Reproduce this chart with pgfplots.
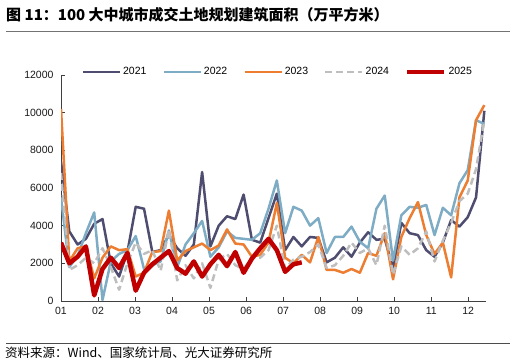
\documentclass[border=0pt]{standalone}
\usepackage{pgfplots}
\pgfplotsset{compat=1.18}
\usepackage{fontspec}
\setmainfont{Liberation Sans}
\newfontfamily\cjk{Noto Sans CJK SC}
\definecolor{c21}{RGB}{78,77,112}
\definecolor{c22}{RGB}{126,172,196}
\definecolor{c23}{RGB}{237,125,49}
\definecolor{c24}{RGB}{190,190,190}
\definecolor{c25}{RGB}{192,0,0}
\begin{document}
\begin{tikzpicture}
\path[use as bounding box] (0pt,0pt) rectangle (516pt,363pt);
\node[anchor=west,inner sep=0pt] at (6pt,348pt) {\cjk\bfseries\fontsize{15}{18}\selectfont 图 11：100 大中城市成交土地规划建筑面积（万平方米）};
\draw[black!55, line width=1pt] (6pt,331pt) -- (510pt,331pt);
\draw[black!70, line width=0.8pt] (6pt,20pt) -- (510pt,20pt);
\node[anchor=west,inner sep=0pt] at (5pt,10.5pt) {\cjk\fontsize{12.5}{15}\selectfont 资料来源：Wind、国家统计局、光大证券研究所};
\begin{axis}[at={(61pt,62pt)}, anchor=south west, scale only axis,
  width=425pt, height=226pt,
  xmin=0, xmax=51.2, ymin=0, ymax=12000,
  axis lines*=left,
  axis line style={black!75, line width=0.9pt},
  tick style={black!75, line width=0.8pt},
  major tick length=4pt, tick align=inside,
  xtick={0,4.46,8.92,13.38,17.84,22.3,26.76,31.22,35.68,40.14,44.6,49.06},
  xticklabels={01,02,03,04,05,06,07,08,09,10,11,12},
  ytick={0,2000,4000,6000,8000,10000,12000},
  scaled y ticks=false,
  /pgf/number format/assume math mode=true,
  /pgf/number format/1000 sep={},
  tick label style={font=\fontsize{10.5}{12}\selectfont, black!90},
  xticklabel style={yshift=-3pt},
  yticklabel style={xshift=-4pt},
  legend style={draw=none, fill=none, at={(0.51,1.013)}, anchor=center,
    font=\fontsize{10.5}{12}\selectfont,
    /tikz/every even column/.append style={column sep=14pt}},
  legend columns=5,
  legend image code/.code={\draw[#1, line cap=butt] (0pt,0pt) -- (37pt,0pt);},
  every axis plot/.append style={line join=round},
]
\addplot[c21, line width=2.5pt] coordinates {
(0,7400)(1,3700)(2,3000)(3,3300)(4,4100)(5,4350)(6,2000)(7,1300)(8,2600)(9,5000)
(10,4900)(11,2600)(12,2700)(13,3500)(14,2800)(15,2400)(16,3000)(17,6850)(18,2900)(19,4000)
(20,4500)(21,4350)(22,5650)(23,3250)(24,3100)(25,4400)(26,5700)(27,2700)(28,3400)(29,2900)
(30,3400)(31,3350)(32,2050)(33,2300)(34,2850)(35,2350)(36,3100)(37,3650)(38,3250)(39,3300)
(40,1750)(41,4150)(42,3600)(43,3500)(44,2700)(45,2350)(46,3100)(47,4300)(48,3950)(49,4450)
(50,5500)(51,10100)};
\addlegendentry{2021}
\addplot[c22, line width=2.5pt] coordinates {
(0,5500)(1,1800)(2,2400)(3,3600)(4,4700)(5,50)(6,2100)(7,2500)(8,2700)(9,3450)
(10,1700)(11,1900)(12,2100)(13,3750)(14,1800)(15,3000)(16,3600)(17,4250)(18,2350)(19,2850)
(20,3700)(21,3350)(22,3300)(23,3250)(24,3600)(25,4900)(26,6400)(27,3600)(28,5000)(29,4800)
(30,4000)(31,4400)(32,2550)(33,3400)(34,3400)(35,3950)(36,3150)(37,2800)(38,4900)(39,5600)
(40,2150)(41,4550)(42,5000)(43,4950)(44,5100)(45,3500)(46,4950)(47,4550)(48,6250)(49,6950)
(50,9600)(51,9400)};
\addlegendentry{2022}
\addplot[c23, line width=2.5pt] coordinates {
(0,10200)(1,2100)(2,2800)(3,2900)(4,1200)(5,2300)(6,2900)(7,2700)(8,2750)(9,1300)
(10,1500)(11,2600)(12,2650)(13,4800)(14,2150)(15,2650)(16,2850)(17,3050)(18,2700)(19,2950)
(20,3800)(21,3050)(22,3000)(23,2350)(24,2450)(25,3100)(26,5200)(27,2300)(28,2000)(29,2450)
(30,2050)(31,3400)(32,1650)(33,1650)(34,1500)(35,1700)(36,1500)(37,2550)(38,2400)(39,3600)
(40,1150)(41,3400)(42,4400)(43,5250)(44,3500)(45,2500)(46,3100)(47,1250)(48,5500)(49,6400)
(50,9600)(51,10400)};
\addlegendentry{2023}
\addplot[c24, line width=2.5pt, dash pattern=on 7pt off 4pt] coordinates {
(0,6800)(1,1650)(2,1900)(3,2300)(4,2000)(5,2800)(6,1800)(7,600)(8,2000)(9,3100)
(10,2500)(11,2700)(12,1600)(13,3800)(14,1100)(15,1900)(16,1200)(17,2000)(18,700)(19,2200)
(20,2500)(21,1900)(22,1700)(23,2300)(24,2300)(25,2700)(26,4000)(27,1700)(28,2200)(29,2350)
(30,2600)(31,3000)(32,1750)(33,1900)(34,2400)(35,3100)(36,2550)(37,2800)(38,1900)(39,4000)
(40,1400)(41,2900)(42,2450)(43,2800)(44,3700)(45,2100)(46,3200)(47,4150)(48,5300)(49,5700)
(50,7000)(51,9600)};
\addlegendentry{2024}
\addplot[c25, line width=4.5pt] coordinates {
(0,3100)(1,2000)(2,2350)(3,2900)(4,300)(5,1700)(6,2300)(7,1750)(8,2550)(9,550)
(10,1500)(11,1950)(12,2300)(13,2650)(14,1750)(15,1450)(16,2100)(17,1300)(18,1950)(19,2450)
(20,1850)(21,2600)(22,1500)(23,2250)(24,2800)(25,3300)(26,2700)(27,1550)(28,1950)(29,2050)};
\addlegendentry{2025}
\end{axis}
\end{tikzpicture}
\end{document}
